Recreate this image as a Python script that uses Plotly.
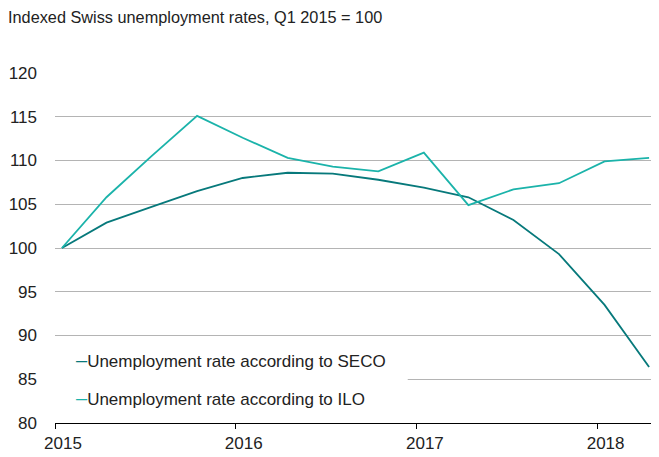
import plotly.graph_objects as go

quarters = ["2015-01-15", "2015-04-15", "2015-07-15", "2015-10-15",
            "2016-01-15", "2016-04-15", "2016-07-15", "2016-10-15",
            "2017-01-15", "2017-04-15", "2017-07-15", "2017-10-15",
            "2018-01-15", "2018-04-15"]
seco = [100.0, 102.9, 104.7, 106.5, 108.0, 108.6, 108.5, 107.8,
        106.9, 105.8, 103.2, 99.3, 93.5, 86.4]
ilo = [100.0, 105.8, 110.5, 115.1, 112.6, 110.3, 109.3, 108.75,
       110.9, 104.9, 106.7, 107.4, 109.9, 110.3]
year_ticks = ["2015-01-01", "2016-01-01", "2017-01-01", "2018-01-01"]
year_labels = ["2015", "2016", "2017", "2018"]
y_ticks = [80, 85, 90, 95, 100, 105, 110, 115, 120]

seco_name = "Unemployment rate according to SECO"
ilo_name = "Unemployment rate according to ILO"
title = "Indexed Swiss unemployment rates, Q1 2015 = 100"

SECO_COLOR = "#07797B"
ILO_COLOR = "#1BB3AA"
FONT = "Liberation Sans, Arial, sans-serif"
TEXT = "#222222"

fig = go.Figure()
fig.add_trace(go.Scatter(x=quarters, y=seco, mode="lines", name=seco_name,
                         line=dict(color=SECO_COLOR, width=1.8), showlegend=False))
fig.add_trace(go.Scatter(x=quarters, y=ilo, mode="lines", name=ilo_name,
                         line=dict(color=ILO_COLOR, width=1.8), showlegend=False))

# white legend box
fig.add_shape(type="rect", xref="paper", yref="y", x0=0.0, x1=0.584, y0=80.6, y1=88.9,
              fillcolor="white", line=dict(width=0), layer="above")

for name, color, yv in [(seco_name, SECO_COLOR, 87.23), (ilo_name, ILO_COLOR, 82.9)]:
    fig.add_annotation(xref="paper", yref="y", x=0.0315, y=yv, xanchor="left", yanchor="middle",
                       showarrow=False, align="left",
                       text=f"<span style='color:{color};font-size:20px'>–</span>{name}",
                       font=dict(family=FONT, size=17, color=TEXT))

fig.update_layout(
    width=651, height=449,
    margin=dict(l=47, r=0, t=65, b=34),
    paper_bgcolor="white", plot_bgcolor="white",
    font=dict(family=FONT, size=17, color=TEXT),
    title=dict(text=title, xref="container", yref="container", x=0.0, xanchor="left",
               y=1 - 9 / 449, yanchor="middle", pad=dict(l=0, r=0, t=0, b=0),
               font=dict(family=FONT, size=16.3, color=TEXT)),
    xaxis=dict(type="date", range=["2015-01-01", "2018-05-05"], automargin=False,
               tickmode="array", tickvals=year_ticks, ticktext=year_labels,
               showgrid=False, showline=True, linecolor="black", linewidth=1,
               ticks="outside", ticklen=5, tickcolor="black", tickwidth=1,
               ticklabelshift=8, tickfont=dict(size=17, color=TEXT, family=FONT),
               zeroline=False, fixedrange=True),
    yaxis=dict(range=[80, 120], tickmode="array", tickvals=y_ticks, automargin=False,
               showgrid=True, gridcolor="#b4b4b4", gridwidth=1,
               showline=False, zeroline=False, ticks="",
               ticklabelstandoff=17, tickfont=dict(size=17, color=TEXT, family=FONT)),
)

fig.write_html("out.html")
